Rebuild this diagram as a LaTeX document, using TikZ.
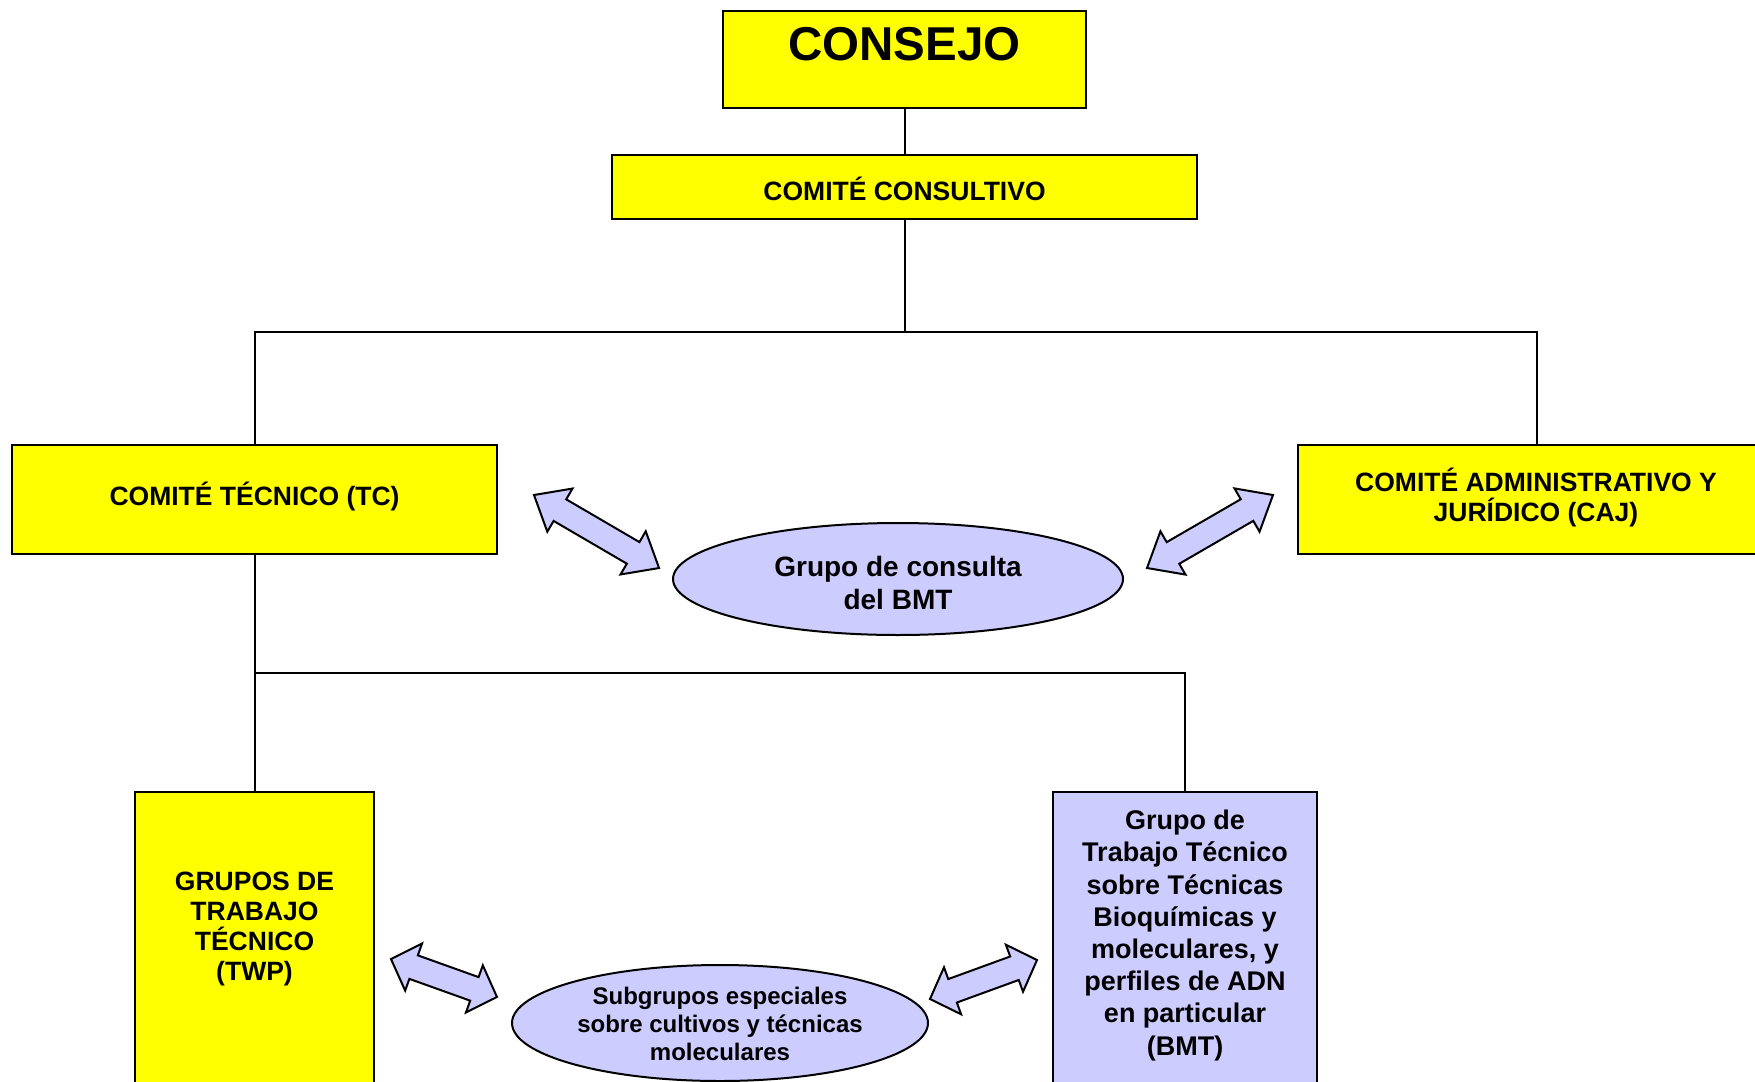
\documentclass[tikz,border=0pt]{standalone}
\usepackage{fontspec}
\setmainfont{Liberation Sans}
\usetikzlibrary{shapes.geometric}
\definecolor{yel}{HTML}{FFFF00}
\definecolor{lav}{HTML}{CCCCFF}
\newcommand\dblarr[4]{%
  \draw[arrshape, shift={(#1)}, rotate=#2] (0,0) -- (#4,25) -- (#4,12.5) -- ({#3-#4},12.5) -- ({#3-#4},25) -- (#3,0) -- ({#3-#4},-25) -- ({#3-#4},-12.5) -- (#4,-12.5) -- (#4,-25) -- cycle;}
\begin{document}
\begin{tikzpicture}[x=1pt,y=-1pt,line width=2pt,
  ybox/.style={draw=black, fill=yel, rectangle, inner sep=0pt, line width=2pt},
  lbox/.style={draw=black, fill=lav, rectangle, inner sep=0pt, line width=2pt},
  oval/.style={draw=black, fill=lav, ellipse, inner sep=0pt, line width=2pt},
  lbl/.style={align=center, inner sep=0pt, anchor=base, font=\bfseries\fontsize{26.5}{30}\selectfont},
  conn/.style={draw=black, line width=2pt},
  arrshape/.style={draw=black, fill=lav, line width=2pt, line join=miter}]
\path[use as bounding box] (0,0) rectangle (1755,1081);
\clip (0,0) rectangle (1755,1081);
\fill[white] (0,0) rectangle (1755,1081);

% nodes (multi-line labels are placed by the baseline of their last line)
\node[ybox, minimum width=363, minimum height=97] (consejo) at (904.5,59.5) {};
\node[lbl, font=\bfseries\fontsize{47.5}{50}\selectfont] (consejot) at (904.5,60.5) {CONSEJO};
\node[ybox, minimum width=585, minimum height=64] (consultivo) at (904.5,187) {};
\node[lbl] (consultivot) at (904.5,200) {COMITÉ CONSULTIVO};
\node[ybox, minimum width=485, minimum height=109] (tc) at (254.5,499.5) {};
\node[lbl] (tct) at (254.5,505) {COMITÉ TÉCNICO (TC)};
\node[ybox, minimum width=478, minimum height=109] (caj) at (1537,499.5) {};
\node[lbl, font=\bfseries\fontsize{26.5}{30}\selectfont] (cajt) at (1536,521) {COMITÉ ADMINISTRATIVO Y\\JURÍDICO (CAJ)};
\node[ybox, minimum width=239, minimum height=330] (twp) at (254.5,957) {};
\node[lbl, font=\bfseries\fontsize{26.5}{30}\selectfont] (twpt) at (254.5,980) {GRUPOS DE\\TRABAJO\\TÉCNICO\\(TWP)};
\node[lbox, minimum width=264, minimum height=330] (bmt) at (1185,957) {};
\node[lbl, font=\bfseries\fontsize{27}{32.2}\selectfont] (bmtt) at (1185,1055) {Grupo de\\Trabajo Técnico\\sobre Técnicas\\Bioquímicas y\\moleculares, y\\perfiles de ADN\\en particular\\(BMT)};
\node[oval, minimum width=450, minimum height=112] (consulta) at (898,579) {};
\node[lbl, font=\bfseries\fontsize{28}{33}\selectfont] (consultat) at (898,609) {Grupo de consulta\\del BMT};
\node[oval, minimum width=416, minimum height=116] (subg) at (720,1023) {};
\node[lbl, font=\bfseries\fontsize{24}{28}\selectfont] (subgt) at (720,1060) {Subgrupos especiales\\sobre cultivos y técnicas\\moleculares};

% connectors
\coordinate (j1) at (904.5,332);
\coordinate (j2) at (254.5,673);
\draw[conn] (consejo.south) -- (consultivo.north);
\draw[conn] (consultivo.south) -- (j1);
\draw[conn] (j1) -| (tc.north);
\draw[conn] (j1) -| (caj.north);
\draw[conn] (tc.south) -- (twp.north);
\draw[conn] (j2) -| (bmt.north);

% double arrows
\coordinate (a1) at (534,495);
\coordinate (a2) at (1147,568);
\coordinate (a3) at (391,959);
\coordinate (a4) at (930,999);
\dblarr{a1}{-30.28}{144.8}{30}
\dblarr{a2}{30.09}{145.6}{30}
\dblarr{a3}{-19.72}{112.6}{24}
\dblarr{a4}{20.02}{113.9}{24}
\end{tikzpicture}
\end{document}
